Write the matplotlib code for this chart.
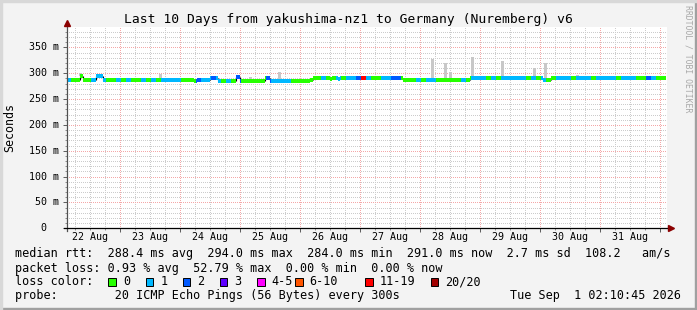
import numpy as np
import matplotlib
matplotlib.use('Agg')
from matplotlib import pyplot as plt
from matplotlib.patches import Rectangle

plt.rcParams['font.family'] = ['DejaVu Sans Mono']

# time axis in hours since 22 Aug 00:00
median_t = [2.4, 8.0, 9.2, 14.4, 17.2, 43.2, 53.6, 54.8, 60.0, 63.2, 70.4, 72.0,
            82.0, 84.0, 100.0, 101.2, 108.0, 108.8, 111.2, 112.0, 137.2, 164.0,
            193.2, 196.4]
median_ms = [288, 295, 288, 294, 288, 286.5, 284.5, 286.5, 290, 285, 293, 284.5,
             290, 284.5, 288, 291.5, 289.5, 291.5, 289.5, 291.5, 288, 291.5,
             287, 291.5]
median_end = 242.3

# loss bucket per 2-hour step (index into loss_labels)
loss_bins = ("100" "0" "011" "100" "101" "001" "010" "111" "100" "021" "121"
             "010" "2" "00000" "2" "11110000" "0" "010010112" "6" "10011220"
             "00101100000101" "110101" "1111" "010100" "1110111" "01111"
             "0111" "002100")
bin_start = 2.4
bin_hours = 2.0

smoke_t = [8.0, 40.0, 61.2, 71.2, 76.0, 87.6, 148.8, 154.0, 156.0, 164.8,
           176.8, 189.6, 194.0, 206.8]
smoke_top = [300, 298, 295, 296, 293, 303, 327, 320, 303, 332, 324, 310, 320, 297]

loss_labels = ['0', '1', '2', '3', '4-5', '6-10', '11-19', '20/20']
loss_colors = ['#26ff00', '#00b8ff', '#0059ff', '#5e00ff', '#ff00ff',
               '#ff5500', '#ff0000', '#a10000']

day_labels = ['22 Aug', '23 Aug', '24 Aug', '25 Aug', '26 Aug', '27 Aug',
              '28 Aug', '29 Aug', '30 Aug', '31 Aug']
y_ticks = [0, 50, 100, 150, 200, 250, 300, 350]
y_labels = ['0', '50 m', '100 m', '150 m', '200 m', '250 m', '300 m', '350 m']

W, H = 697, 310
fig = plt.figure(figsize=(W / 100, H / 100), dpi=100, facecolor='#f3f3f3')


def px(x, y):
    return x / W, 1 - y / H


ax = fig.add_axes([67 / W, 81.7 / H, 600 / W, 201.5 / H])
ax.set_facecolor('white')
ax.set_xlim(2.8, 242.8)
ax.set_ylim(0, 390)
for s in ax.spines.values():
    s.set_visible(False)

# grid (dotted, rrdtool style)
dot = dict(lw=0.72, ls=(0, (1, 1.4)), antialiased=False)
for h in range(6, 243, 6):
    if h % 24:
        ax.axvline(h, color='#cccccc', zorder=1, **dot)
for v in range(10, 390, 10):
    if v % 50:
        ax.axhline(v, color='#cccccc', zorder=1, **dot)
for h in range(24, 243, 24):
    ax.axvline(h, color='#f4a8a8', zorder=1.5, **dot)
for v in range(50, 390, 50):
    ax.axhline(v, color='#f4a8a8', zorder=1.5, **dot)

mt = np.array(median_t)
mv = np.array(median_ms)


def median_at(t):
    return mv[np.searchsorted(mt, t, side='right') - 1]


# smoke spikes
for t, top in zip(smoke_t, smoke_top):
    base = median_at(t)
    ax.bar(t, top - base, bottom=base, width=1.2, color='#c8c8c8', zorder=2)

# median: black vertical steps, loss coloured horizontal pieces
ax.vlines(mt[1:], mv[:-1], mv[1:], color='black', lw=0.8, zorder=3)
for i, code in enumerate(loss_bins):
    t0 = bin_start + i * bin_hours
    t1 = min(t0 + bin_hours, median_end)
    if t0 >= t1:
        continue
    pts = [t0] + [b for b in median_t if t0 < b < t1] + [t1]
    for a, b in zip(pts[:-1], pts[1:]):
        ax.hlines(median_at(a), a, b, color=loss_colors[int(code)], lw=1.5,
                  zorder=4, antialiased=False)

# ticks
ax.set_yticks(y_ticks)
ax.set_yticks(range(0, 390, 10), minor=True)
ax.set_xticks(range(24, 243, 24))
ax.set_xticks(range(6, 243, 6), minor=True)
ax.tick_params(which='major', length=3, width=0.72, color='#606060',
               labelleft=False, labelbottom=False)
ax.tick_params(which='minor', length=1.5, width=0.72, color='#909090')

ytr = ax.get_yaxis_transform()
for v, lab in zip(y_ticks, y_labels):
    xr = -0.0138 if v else -0.0338
    ax.text(xr, v, lab, transform=ytr, ha='right', va='center', fontsize=7.2)
xtr = ax.get_xaxis_transform()
for k, lab in enumerate(day_labels):
    ax.text(12 + 24 * k, -0.045, lab, transform=xtr, ha='center', va='center',
            fontsize=7.2)

# axis lines with arrows
ax.plot([2.8, 2.8], [-5, 396], color='#505050', lw=0.9, clip_on=False, zorder=5)
ax.plot([2.8], [397], marker='^', ms=4.5, color='#8b0000', clip_on=False, zorder=6)
ax.plot([1.6, 244.0], [0, 0], color='black', lw=0.9, clip_on=False, zorder=5)
ax.plot([244.4], [0], marker='>', ms=4.5, color='#8b0000', clip_on=False, zorder=6)

# texts
fig.text(*px(348.5, 19), 'Last 10 Days from yakushima-nz1 to Germany (Nuremberg) v6',
         ha='center', va='center', fontsize=9.4)
fig.text(*px(10, 127), 'Seconds', rotation=90, ha='center', va='center',
         fontsize=8.4)
fig.text(*px(688, 59), 'RRDTOOL / TOBI OETIKER', rotation=-90, ha='center',
         va='center', fontsize=5.9, color='#a8a8a8')

lfs = 8.5
fig.text(*px(15, 254), 'median rtt:  288.4 ms avg  294.0 ms max  284.0 ms min  '
         '291.0 ms now  2.7 ms sd  108.2   am/s', va='center', fontsize=lfs)
fig.text(*px(15, 268.3), 'packet loss: 0.93 % avg  52.79 % max  0.00 % min  '
         '0.00 % now', va='center', fontsize=lfs)
fig.text(*px(15, 281.7), 'loss color:', va='center', fontsize=lfs)
box_x = [108.3, 145.7, 182.7, 220, 257.3, 295, 365, 430.7]
for bx, lab, col in zip(box_x, loss_labels, loss_colors):
    fig.patches.append(Rectangle(px(bx, 285.7), 7.5 / W, 8 / H, facecolor=col,
                                 edgecolor='black', lw=0.7,
                                 transform=fig.transFigure))
    fig.text(*px(bx + 14.5, 281.7), lab, va='center', fontsize=lfs)
fig.text(*px(15, 296), 'probe:        20 ICMP Echo Pings (56 Bytes) every 300s',
         va='center', fontsize=lfs)
fig.text(*px(681, 296), 'Tue Sep  1 02:10:45 2026', ha='right', va='center',
         fontsize=lfs)

# frame
fig.patches.append(Rectangle((0, 0), 1, 2 / H, color='#a0a0a0',
                             transform=fig.transFigure))
fig.patches.append(Rectangle((1 - 2 / W, 0), 2 / W, 1, color='#a0a0a0',
                             transform=fig.transFigure))
fig.patches.append(Rectangle((0, 1 - 2 / H), 1, 2 / H, color='#d8d8d8',
                             transform=fig.transFigure))
fig.patches.append(Rectangle((0, 0), 2 / W, 1, color='#d8d8d8',
                             transform=fig.transFigure))

fig.savefig('out.png', dpi=100, facecolor=fig.get_facecolor())
